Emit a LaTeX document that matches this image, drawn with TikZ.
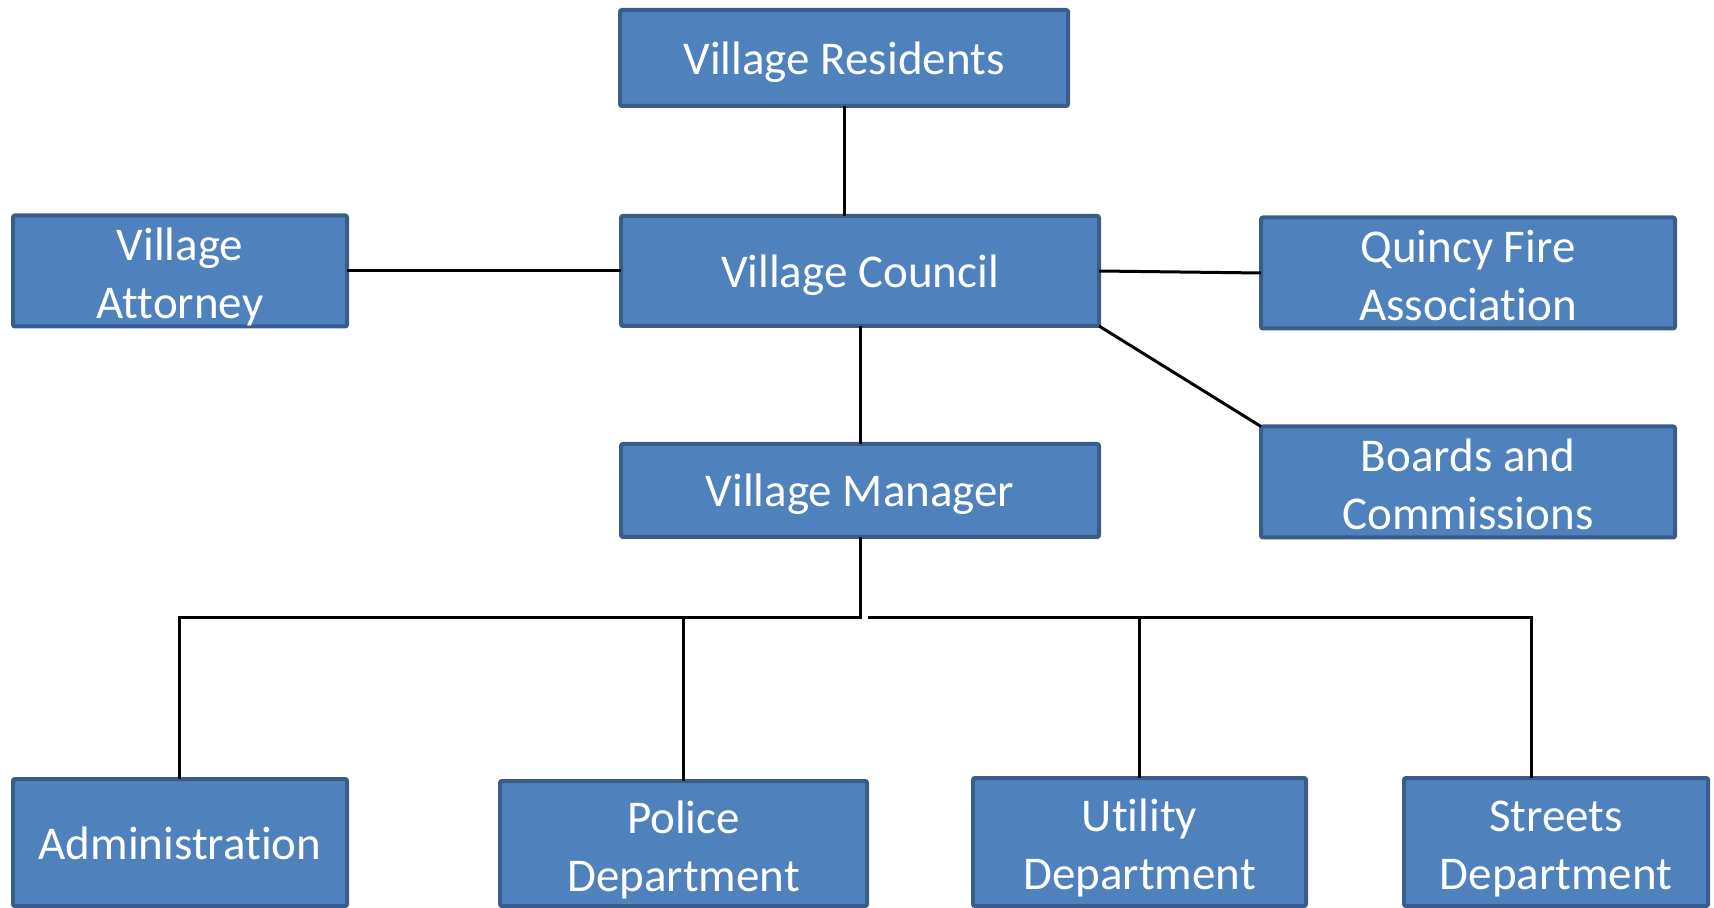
\documentclass[tikz,border=0pt]{standalone}
\usepackage{fontspec}
\setmainfont[RawFeature=-liga]{Carlito}
\definecolor{boxfill}{HTML}{4F81BD}
\definecolor{boxedge}{HTML}{385D8A}
\begin{document}
\begin{tikzpicture}[x=0.5pt,y=-0.5pt,
  orgbox/.style={draw=boxedge,fill=boxfill,line width=2pt,rounded corners=1pt,
    inner sep=0pt,outer sep=0pt,align=center,text=white,
    font=\fontsize{23.5}{29}\selectfont,
    execute at begin node={\rule{0pt}{20.5pt}},
    execute at end node={\rule[-4pt]{0pt}{0pt}}},
  twoline/.style={execute at begin node={\rule{0pt}{51.5pt}}},
  link/.style={line width=1.5pt,black}]
\useasboundingbox (0,0) rectangle (1714,908);
\node[orgbox,minimum width=224pt,minimum height=48pt] (res) at (844,58) {Village Residents};
\node[orgbox,minimum width=239pt,minimum height=55pt] (council) at (860,271) {Village Council};
\node[orgbox,twoline,minimum width=167pt,minimum height=55pt] (attorney) at (180,271) {Village\\Attorney};
\node[orgbox,twoline,minimum width=207pt,minimum height=53pt] (quincy) at (1468,273) {Quincy Fire\\Association};
\node[orgbox,twoline,minimum width=207pt,minimum height=55pt] (boards) at (1468,482) {Boards and\\Commissions};
\node[orgbox,minimum width=239pt,minimum height=46.5pt] (manager) at (860,490.5) {Village Manager};
\node[orgbox,minimum width=167pt,minimum height=63.5pt] (admin) at (180,842.5) {Administration};
\node[orgbox,twoline,minimum width=183.5pt,minimum height=62.5pt] (police) at (683.5,843.5) {Police\\Department};
\node[orgbox,twoline,minimum width=166.5pt,minimum height=64pt] (utility) at (1139.5,842) {Utility\\Department};
\node[orgbox,twoline,minimum width=152pt,minimum height=64pt] (streets) at (1556,842) {Streets\\Department};
\coordinate (busM) at (860,618);
\coordinate (busL) at (179,618);
\coordinate (busR0) at (868,618);
\coordinate (busR) at (1531,618);
\draw[link] (res.south) -- (res.south |- council.north);
\draw[link] (attorney.east) -- (council.west);
\draw[link] (council.east) -- (quincy.west);
\draw[link] (council.south east) -- (boards.north west);
\draw[link] (council.south) -- (manager.north);
\draw[link] (manager.south) -- (busM) -- (busL) -- (busL |- admin.north);
\draw[link] (police.north |- busM) -- (police.north);
\draw[link] (busR0) -- (busR) -- (busR |- streets.north);
\draw[link] (utility.north |- busR0) -- (utility.north);
\end{tikzpicture}
\end{document}
